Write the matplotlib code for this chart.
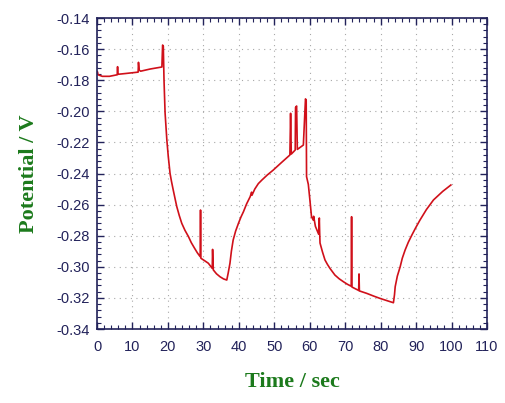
# Potential vs time trace
import numpy as np
from matplotlib import pyplot as plt
from matplotlib.ticker import MultipleLocator

# values (spikes kept inline)
time_s = [0.0, 0.1, 0.3, 1.5, 3.5, 5.7, 5.8, 5.9, 8.0, 11.6, 11.7, 11.9, 12.3,
          15.0, 18.3, 18.5, 18.7, 18.9, 19.2, 19.7, 20.1, 20.6, 21.0, 21.5,
          22.0, 22.5, 23.2, 23.9, 24.8, 25.8, 26.6, 27.5, 28.3, 29.1, 29.2,
          29.3, 30.3, 31.4, 32.5, 32.6, 32.8, 33.7, 34.7, 35.7, 36.6, 37.0,
          37.5, 37.9, 38.4, 39.1, 39.9, 40.6, 41.3, 42.2, 43.2, 43.6, 43.7,
          44.5, 45.5, 46.5, 48.0, 49.7, 52.0, 54.4, 54.6, 54.8, 55.9, 56.0,
          56.3, 56.5, 58.2, 58.8, 59.0, 59.1, 59.6, 60.0, 60.5, 61.0, 61.1,
          61.6, 62.5, 62.7, 62.8, 62.9, 63.6, 64.3, 65.0, 65.7, 67.1, 68.3,
          69.5, 70.6, 71.7, 71.8, 71.9, 73.8, 73.9, 74.0, 76.1, 78.0, 79.8,
          81.7, 83.6, 83.9, 84.1, 84.7, 85.5, 86.1, 86.9, 87.8, 88.8, 89.9,
          91.1, 92.9, 94.9, 97.5, 99.8]
potential_v = [-0.1760, -0.1745, -0.1765, -0.1775, -0.1775, -0.1765, -0.1713,
               -0.1762, -0.1757, -0.1748, -0.1685, -0.1735, -0.1742, -0.1728,
               -0.1715, -0.1574, -0.1580, -0.1800, -0.2010, -0.2185, -0.2290,
               -0.2399, -0.2450, -0.2506, -0.2560, -0.2613, -0.2670, -0.2720,
               -0.2765, -0.2806, -0.2845, -0.2880, -0.2910, -0.2935, -0.2635,
               -0.2945, -0.2960, -0.2977, -0.3010, -0.2888, -0.3020, -0.3045,
               -0.3064, -0.3078, -0.3085, -0.3040, -0.2977, -0.2900, -0.2828,
               -0.2770, -0.2720, -0.2680, -0.2646, -0.2595, -0.2549, -0.2520,
               -0.2540, -0.2500, -0.2465, -0.2442, -0.2410, -0.2378, -0.2330,
               -0.2281, -0.2013, -0.2275, -0.2249, -0.1975, -0.1966, -0.2245,
               -0.2217, -0.1920, -0.1930, -0.2420, -0.2470, -0.2560, -0.2678,
               -0.2700, -0.2675, -0.2740, -0.2790, -0.2686, -0.2780, -0.2847,
               -0.2905, -0.2956, -0.2985, -0.3010, -0.3053, -0.3077, -0.3096,
               -0.3112, -0.3125, -0.2678, -0.3130, -0.3152, -0.3046, -0.3155,
               -0.3171, -0.3188, -0.3203, -0.3217, -0.3231, -0.3180, -0.3128,
               -0.3060, -0.3000, -0.2945, -0.2892, -0.2842, -0.2796, -0.2748,
               -0.2699, -0.2632, -0.2570, -0.2515, -0.2474]

navy = '#22225a'
green = '#1c7a1c'

fig = plt.figure(figsize=(5.06, 4.03), dpi=100)
ax = fig.add_axes([0.1917, 0.1836, 0.7708, 0.7717])

ax.plot(time_s, potential_v, color='#d0101a', lw=1.2)

ax.set_xlim(0, 110)
ax.set_ylim(-0.34, -0.14)
ax.xaxis.set_major_locator(MultipleLocator(10))
ax.xaxis.set_minor_locator(MultipleLocator(2))
ax.yaxis.set_major_locator(MultipleLocator(0.02))
ax.yaxis.set_minor_locator(MultipleLocator(0.004))
ax.yaxis.set_major_formatter(plt.FuncFormatter(lambda v, p: f'{v:.2f}'))

ax.grid(True, which='major', color='#a8a8a8', linestyle=(0, (1, 4)), lw=0.8)
for s in ax.spines.values():
    s.set_color(navy)
    s.set_linewidth(1.2)
ax.tick_params(which='both', direction='in', top=True, right=True,
               color=navy, labelcolor=navy)
ax.tick_params(which='major', length=5, width=1.0, labelsize=10.5)
ax.tick_params(which='minor', length=3, width=0.8)
ax.tick_params(axis='x', which='major', pad=8)
ax.tick_params(axis='y', which='major', pad=5)
for lab in ax.get_xticklabels() + ax.get_yticklabels():
    lab.set_family('Liberation Sans')

ax.set_xlabel('Time / sec', family='Liberation Serif', weight='bold',
              fontsize=16, color=green, labelpad=13)
ax.set_ylabel('Potential / V', family='Liberation Serif', weight='bold',
              fontsize=16, color=green, labelpad=13)

plt.savefig('out.png', dpi=100)
